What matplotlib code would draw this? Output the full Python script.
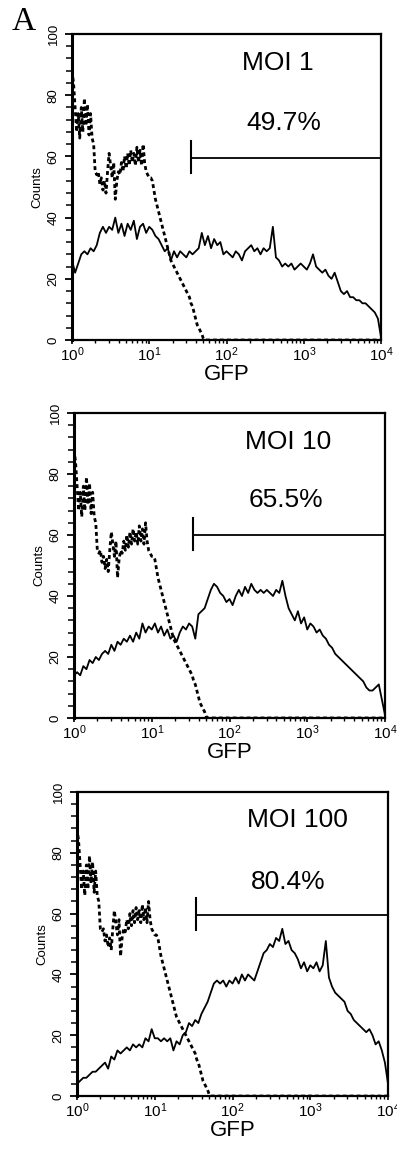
import numpy as np
import matplotlib
matplotlib.use("Agg")
import matplotlib.pyplot as plt
from matplotlib.ticker import MultipleLocator, LogLocator, NullFormatter

plt.rcParams['font.family'] = ['Liberation Sans', 'DejaVu Sans']

# channel grid of the log amplifier (decades 0..4)
SOLID_STEP = 0.04
CTRL_STEP = 0.02

# infected cells, counts per channel (0.04 decade per channel)
moi1_counts = [
    26, 22, 25, 28, 29, 28, 30, 29, 31, 35,
    37, 35, 37, 36, 40, 35, 38, 34, 38, 36,
    39, 33, 37, 38, 35, 37, 36, 34, 33, 31,
    29, 30, 26, 29, 27, 29, 28, 27, 29, 28,
    29, 30, 35, 31, 34, 30, 33, 31, 32, 28,
    29, 28, 27, 29, 28, 26, 29, 30, 31, 29,
    30, 28, 30, 29, 30, 37, 27, 26, 24, 25,
    24, 25, 23, 24, 25, 24, 23, 25, 28, 24,
    23, 22, 23, 21, 20, 22, 19, 16, 15, 16,
    14, 14, 13, 13, 12, 12, 11, 10, 9, 7,
    1,
]
moi10_counts = [
    14, 15, 14, 17, 16, 19, 18, 20, 19, 21,
    22, 21, 24, 22, 25, 24, 26, 25, 27, 25,
    28, 26, 31, 28, 30, 29, 31, 28, 30, 27,
    29, 26, 27, 25, 28, 30, 29, 31, 30, 26,
    34, 35, 36, 39, 42, 44, 43, 41, 40, 38,
    39, 37, 40, 42, 40, 43, 41, 44, 42, 41,
    42, 41, 42, 41, 40, 42, 41, 45, 40, 36,
    34, 32, 35, 31, 33, 29, 31, 30, 28, 29,
    27, 26, 24, 23, 21, 20, 19, 18, 17, 16,
    15, 14, 13, 12, 10, 9, 9, 10, 11, 6,
    1,
]
moi100_counts = [
    4, 5, 6, 6, 7, 8, 8, 9, 10, 11,
    9, 13, 12, 15, 14, 15, 16, 15, 17, 16,
    17, 16, 19, 18, 22, 19, 19, 18, 19, 18,
    19, 15, 18, 17, 20, 21, 24, 23, 25, 24,
    27, 29, 31, 34, 37, 38, 37, 38, 36, 38,
    37, 39, 37, 40, 38, 40, 39, 38, 41, 44,
    47, 48, 50, 49, 52, 51, 55, 50, 51, 48,
    47, 45, 42, 44, 41, 43, 42, 44, 41, 43,
    51, 39, 36, 34, 33, 32, 31, 28, 27, 25,
    24, 23, 22, 21, 22, 20, 17, 18, 15, 11,
    4,
]

# uninfected control (0.02 decade per channel), zero above 1.7 decades
control_counts = [
    88, 84, 76, 68, 74, 66, 76, 68, 79, 70, 77, 67, 74, 66, 64,
    55, 54, 55, 51, 53, 49, 52, 48, 55,
    61, 57, 53, 58, 46, 52, 55, 54,
    58, 55, 60, 56, 61, 57, 62, 58, 61, 57, 63, 58, 62, 57, 64, 58,
    55, 54,
    53, 53, 52, 49, 46, 44, 42, 40, 38, 36,
    34, 32, 30, 28, 26, 25, 24, 23, 22, 21,
    20, 19, 18, 17, 16, 15, 14, 12, 11, 9,
    7, 5, 4, 3, 2, 0.5,
]
control_counts = control_counts + [0] * (201 - len(control_counts))

panel_names = ["MOI 1", "MOI 10", "MOI 100"]
panel_pcts = ["49.7%", "65.5%", "80.4%"]
panel_counts = [moi1_counts, moi10_counts, moi100_counts]
gate_start = [34.7, 34.0, 34.0]
gate_level = [59.5, 60.0, 59.6]

# layout taken from the figure (fractions of 397 x 1153 px)
axes_rects = [
    [0.1814, 0.7051, 0.7783, 0.2654],
    [0.1864, 0.3773, 0.7834, 0.2645],
    [0.1940, 0.0494, 0.7834, 0.2637],
]
name_pos = [(0.665, 0.905), (0.69, 0.905), (0.71, 0.909)]
pct_pos = [(0.685, 0.709), (0.68, 0.714), (0.68, 0.705)]

fig = plt.figure(figsize=(3.97, 11.53), dpi=100)

x_solid = 10 ** (np.arange(101) * SOLID_STEP)
x_ctrl = 10 ** (np.arange(201) * CTRL_STEP)

for i in range(3):
    ax = fig.add_axes(axes_rects[i])
    ax.plot(x_ctrl, control_counts, color='k', lw=2.0,
            linestyle=(0, (1.4, 1.1)), solid_capstyle='butt')
    ax.plot(x_solid, panel_counts[i], color='k', lw=1.3)

    # marker gate
    ax.plot([gate_start[i], 1e4], [gate_level[i], gate_level[i]], color='k', lw=1.3)
    ax.plot([gate_start[i], gate_start[i]], [gate_level[i] - 5, gate_level[i] + 5.5],
            color='k', lw=1.5)

    ax.text(*name_pos[i], panel_names[i], transform=ax.transAxes,
            ha='center', va='center', fontsize=19)
    ax.text(*pct_pos[i], panel_pcts[i], transform=ax.transAxes,
            ha='center', va='center', fontsize=19)

    ax.set_xscale('log')
    ax.set_xlim(1, 1e4)
    ax.set_ylim(0, 100)
    ax.xaxis.set_major_locator(LogLocator(base=10, numticks=10))
    ax.xaxis.set_minor_locator(LogLocator(base=10, subs=np.arange(2, 10), numticks=10))
    ax.xaxis.set_minor_formatter(NullFormatter())
    ax.yaxis.set_major_locator(MultipleLocator(20))
    ax.yaxis.set_minor_locator(MultipleLocator(4))

    ax.tick_params(axis='x', which='major', direction='out', length=3, width=1.2,
                   pad=1, labelsize=11)
    ax.tick_params(axis='x', which='minor', direction='out', length=2, width=1)
    ax.tick_params(axis='y', which='major', direction='out', length=5, width=1.3,
                   pad=4, labelsize=9.5, labelrotation=90)
    ax.tick_params(axis='y', which='minor', direction='out', length=4, width=1.1)
    for lab in ax.get_yticklabels():
        lab.set_va('center')

    for side in ['top', 'right', 'bottom']:
        ax.spines[side].set_linewidth(1.6)
    ax.spines['left'].set_linewidth(2.2)

    ax.set_xlabel("GFP", fontsize=16, labelpad=0)
    ax.set_ylabel("Counts", fontsize=9.5, labelpad=3)

fig.text(0.059, 0.981, "A", fontsize=24, ha='center', va='center',
         family=['Liberation Serif', 'DejaVu Serif'])

fig.savefig("out.png", dpi=100)
